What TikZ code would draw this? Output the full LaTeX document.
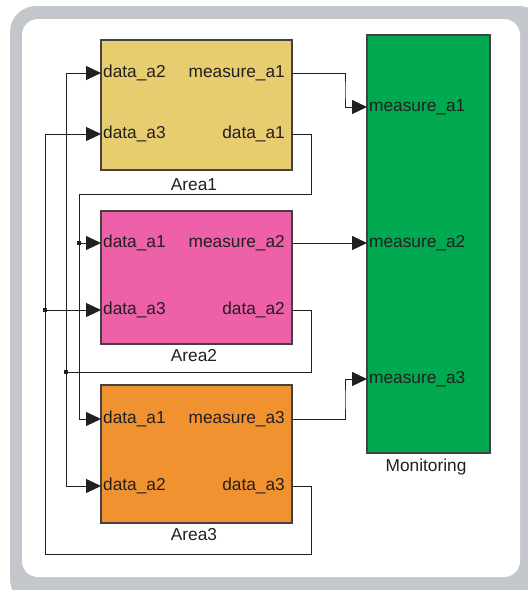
\documentclass[tikz,border=0pt]{standalone}
\usepackage{fontspec}
\setmainfont{Liberation Sans}
\usetikzlibrary{arrows.meta}

\definecolor{framegray}{RGB}{195,199,204}
\definecolor{inkgray}{RGB}{35,31,32}
\definecolor{areaone}{RGB}{232,205,112}
\definecolor{areatwo}{RGB}{238,96,167}
\definecolor{areathree}{RGB}{241,146,48}
\definecolor{monitorgreen}{RGB}{0,168,80}

\tikzset{
  blockbox/.style={draw=inkgray!85, line width=1.1pt, inner sep=0pt},
  portlabel/.style={font=\fontsize{17.3}{19}\selectfont, text=inkgray, inner ysep=0pt},
  inport/.style={portlabel, anchor=west, inner xsep=2pt},
  outport/.style={portlabel, anchor=east, inner xsep=7pt},
  caption/.style={font=\fontsize{17.3}{19}\selectfont, text=inkgray},
  wire/.style={draw=inkgray, line width=1pt},
  feed/.style={wire, -{Triangle[length=15pt,width=14pt]}},
  junction/.style={fill=inkgray, minimum size=3.2pt, inner sep=0pt}
}

\begin{document}
\begin{tikzpicture}[x=1pt,y=-1pt]
\useasboundingbox (0,0) rectangle (528,590);

% rounded frame
\fill[framegray, rounded corners=26pt] (10,6) rectangle (545,605);
\fill[white, rounded corners=16pt] (22,19) rectangle (520,577);

% blocks
\node[blockbox, fill=areaone, minimum width=191pt, minimum height=130pt] (A1) at (196.5,105) {};
\node[blockbox, fill=areatwo, minimum width=191pt, minimum height=133pt] (A2) at (196.5,277.5) {};
\node[blockbox, fill=areathree, minimum width=191pt, minimum height=138pt] (A3) at (196.5,454) {};
\node[blockbox, fill=monitorgreen, minimum width=123pt, minimum height=418pt] (M) at (428.5,244) {};

% captions
\node[caption] (capA1) at (194,185) {Area1};
\node[caption] (capA2) at (194,356) {Area2};
\node[caption] (capA3) at (194,535) {Area3};
\node[caption] (capM) at (426,467) {Monitoring};

% Area1 ports
\node[inport] (A1in2) at (101,73) {data\_a2};
\node[inport] (A1in3) at (101,134) {data\_a3};
\node[outport] (A1meas) at (292,73) {measure\_a1};
\node[outport] (A1out) at (292,134) {data\_a1};

% Area2 ports
\node[inport] (A2in1) at (101,243) {data\_a1};
\node[inport] (A2in3) at (101,310) {data\_a3};
\node[outport] (A2meas) at (292,243) {measure\_a2};
\node[outport] (A2out) at (292,310) {data\_a2};

% Area3 ports
\node[inport] (A3in1) at (101,419) {data\_a1};
\node[inport] (A3in2) at (101,486) {data\_a2};
\node[outport] (A3meas) at (292,419) {measure\_a3};
\node[outport] (A3out) at (292,486) {data\_a3};

% Monitoring ports
\node[inport] (Min1) at (367,107) {measure\_a1};
\node[inport] (Min2) at (367,243) {measure\_a2};
\node[inport] (Min3) at (367,379) {measure\_a3};

% routing points
\coordinate (loopA) at (311,194);
\coordinate (busA) at (79,194);
\coordinate (tapA) at (79,243);
\coordinate (loopB) at (311,372);
\coordinate (busB) at (66,372);
\coordinate (loopC) at (311,554);
\coordinate (busC) at (45,554);
\coordinate (tapC) at (45,310);
\coordinate (bendM1) at (345,90);
\coordinate (bendM3) at (345,400);

% data_a1 from Area1 to Area2 and Area3
\draw[feed] (A1out.east) -| (loopA) -- (busA) |- (A2in1.west);
\draw[feed] (tapA) |- (A3in1.west);

% data_a2 from Area2 to Area1 and Area3
\draw[feed] (A2out.east) -| (loopB) -- (busB) |- (A1in2.west);
\draw[feed] (busB) |- (A3in2.west);

% data_a3 from Area3 to Area1 and Area2
\draw[feed] (A3out.east) -| (loopC) -- (busC) |- (A1in3.west);
\draw[feed] (tapC) -- (A2in3.west);

% measurements to Monitoring
\draw[feed] (A1meas.east) -| (bendM1) |- (Min1.west);
\draw[feed] (A2meas.east) -- (Min2.west);
\draw[feed] (A3meas.east) -| (bendM3) |- (Min3.west);

% branch points
\node[junction] (jA) at (tapA) {};
\node[junction] (jB) at (busB) {};
\node[junction] (jC) at (tapC) {};

\end{tikzpicture}
\end{document}
